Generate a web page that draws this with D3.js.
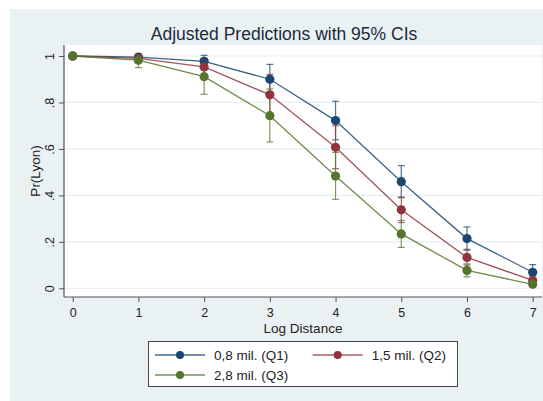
<!DOCTYPE html>
<html><head><meta charset="utf-8">
<script src="https://cdn.jsdelivr.net/npm/d3@7"></script>
<style>
html,body{margin:0;padding:0;background:#fff;}
text{font-family:"Liberation Sans",Arial,sans-serif;}
</style></head>
<body><svg id="c" width="543" height="401"></svg>
<script>
const xValues = [0,1,2,3,4,5,6,7];
const seriesNames = ["0,8 mil. (Q1)","1,5 mil. (Q2)","2,8 mil. (Q3)"];
const seriesColors = ["#1a476f","#90353b","#55752f"];
const q1 = [1.0,0.995,0.977,0.900,0.722,0.459,0.214,0.069];
const q1Lo = [1.0,0.985,0.951,0.836,0.639,0.390,0.164,0.036];
const q1Hi = [1.0,1.004,1.003,0.964,0.805,0.528,0.264,0.102];
const q2 = [1.0,0.990,0.953,0.833,0.607,0.338,0.133,0.034];
const q2Lo = [1.0,0.975,0.915,0.745,0.515,0.283,0.100,0.015];
const q2Hi = [1.0,1.003,0.990,0.921,0.700,0.393,0.168,0.053];
const q3 = [1.0,0.982,0.911,0.743,0.483,0.234,0.077,0.017];
const q3Lo = [1.0,0.950,0.835,0.630,0.383,0.176,0.049,0.005];
const q3Hi = [1.0,1.010,0.987,0.858,0.585,0.292,0.105,0.030];
const yTicks = [0,0.2,0.4,0.6,0.8,1];
const yTickLabels = ["0",".2",".4",".6",".8","1"];
const xTicks = [0,1,2,3,4,5,6,7];
const title = "Adjusted Predictions with 95% CIs";
const xTitle = "Log Distance";
const yTitle = "Pr(Lyon)";

const series = [
  {name:seriesNames[0], color:seriesColors[0], v:q1, lo:q1Lo, hi:q1Hi},
  {name:seriesNames[1], color:seriesColors[1], v:q2, lo:q2Lo, hi:q2Hi},
  {name:seriesNames[2], color:seriesColors[2], v:q3, lo:q3Lo, hi:q3Hi}
];

const svg = d3.select("#c");
const bg = "#eaf1f3";
svg.append("rect").attr("x",10).attr("y",9).attr("width",533).attr("height",392).attr("fill",bg);

const plot = {l:64, t:45, r:542, b:297};
svg.append("rect").attr("x",plot.l).attr("y",plot.t).attr("width",plot.r-plot.l).attr("height",plot.b-plot.t).attr("fill","#fff");

const x = d3.scaleLinear().domain([0,7]).range([72.7,532.7]);
const y = d3.scaleLinear().domain([0,1]).range([288.3,56]);

// gridlines
svg.append("g").selectAll("line").data(yTicks).join("line")
  .attr("x1",plot.l).attr("x2",plot.r)
  .attr("y1",d=>y(d)).attr("y2",d=>y(d))
  .attr("stroke","#e6eef1").attr("stroke-width",1.2);

// axes
const yAxis = d3.axisLeft(y).tickValues(yTicks).tickFormat((d,i)=>yTickLabels[i]).tickSize(5).tickPadding(4);
const gy = svg.append("g").attr("transform",`translate(${plot.l},0)`).call(yAxis);
gy.select(".domain").attr("d",`M0,${plot.t}V${plot.b}`).attr("stroke","#555").attr("stroke-width",1.2);
gy.selectAll(".tick line").attr("stroke","#555");
gy.selectAll(".tick text").attr("font-size",12.5).attr("fill","#222")
  .attr("transform","rotate(-90)").attr("x",0).attr("y",-10).attr("dy","0").attr("text-anchor","middle")
  .style("font-family","'Liberation Sans',Arial,sans-serif");

const xAxis = d3.axisBottom(x).tickValues(xTicks).tickFormat(d3.format("d")).tickSize(5).tickPadding(6);
const gx = svg.append("g").attr("transform",`translate(0,${plot.b})`).call(xAxis);
gx.select(".domain").attr("d",`M${plot.l},0H${plot.r}`).attr("stroke","#555").attr("stroke-width",1.2);
gx.selectAll(".tick line").attr("stroke","#555");
gx.selectAll(".tick text").attr("font-size",12.5).attr("fill","#222")
  .style("font-family","'Liberation Sans',Arial,sans-serif");

// titles
svg.append("text").attr("x",284).attr("y",39.5).attr("text-anchor","middle")
  .attr("font-size",17.5).attr("fill","#1e2a3a").text(title);
svg.append("text").attr("x",(plot.l+plot.r)/2).attr("y",333).attr("text-anchor","middle")
  .attr("font-size",13.5).attr("fill","#222").text(xTitle);
svg.append("text").attr("transform",`translate(40,${(plot.t+plot.b)/2}) rotate(-90)`).attr("text-anchor","middle")
  .attr("font-size",13.5).attr("fill","#222").text(yTitle);

// series
const line = d3.line().x((d,i)=>x(xValues[i])).y(d=>y(d));
series.forEach(s=>{
  const g = svg.append("g");
  xValues.forEach((xv,i)=>{
    const cx=x(xv);
    g.append("line").attr("x1",cx).attr("x2",cx).attr("y1",y(s.lo[i])).attr("y2",y(s.hi[i]))
      .attr("stroke",s.color).attr("stroke-width",1.2).attr("stroke-opacity",0.75);
    [s.lo[i],s.hi[i]].forEach(v=>{
      g.append("line").attr("x1",cx-3.5).attr("x2",cx+3.5).attr("y1",y(v)).attr("y2",y(v))
        .attr("stroke",s.color).attr("stroke-width",1.2).attr("stroke-opacity",0.75);
    });
  });
});
series.forEach(s=>{
  const g = svg.append("g");
  g.append("path").datum(s.v).attr("d",line).attr("fill","none")
    .attr("stroke",s.color).attr("stroke-width",1.3).attr("stroke-opacity",0.85);
  g.selectAll("circle").data(s.v).join("circle")
    .attr("cx",(d,i)=>x(xValues[i])).attr("cy",d=>y(d)).attr("r",4.6).attr("fill",s.color);
});

// legend
const lg = svg.append("g");
lg.append("rect").attr("x",148.5).attr("y",341.5).attr("width",309).attr("height",45)
  .attr("fill","#fff").attr("stroke","#444").attr("stroke-width",1);
const legPos = [{x:155,y:355},{x:312.7,y:355},{x:155,y:375}];
series.forEach((s,i)=>{
  const p=legPos[i];
  lg.append("line").attr("x1",p.x).attr("x2",p.x+50).attr("y1",p.y).attr("y2",p.y)
    .attr("stroke",s.color).attr("stroke-width",1.3).attr("stroke-opacity",0.8);
  lg.append("circle").attr("cx",p.x+25).attr("cy",p.y).attr("r",4).attr("fill",s.color);
  lg.append("text").attr("x",p.x+59).attr("y",p.y+5).attr("font-size",13.5).attr("fill","#222").text(s.name);
});
</script></body></html>
